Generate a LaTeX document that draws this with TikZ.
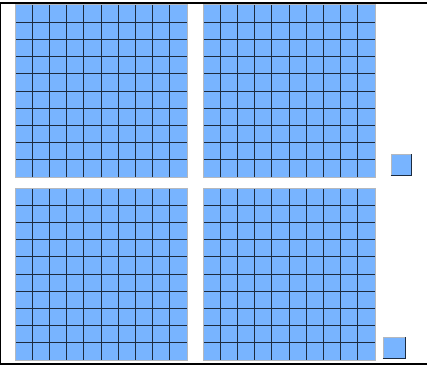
\documentclass[tikz,border=0pt]{standalone}
\usepackage{tikz}
\definecolor{tile}{HTML}{78B4FF}
\definecolor{gridln}{HTML}{1C2B3F}
\definecolor{rim}{HTML}{B4B8BE}
\tikzset{
  flat/.style={fill=tile},
  gridline/.style={gridln,line width=0.8pt},
  rimline/.style={draw=rim,line width=1pt},
  darkedge/.style={gridln,line width=1pt},
  frameline/.style={black,line width=2pt},
}
\begin{document}
\begin{tikzpicture}[x=1pt,y=-1pt]
  \useasboundingbox (0,0) rectangle (427,366);
  % frame
  \draw[frameline] (0,3) -- (427,3);
  \draw[frameline] (0,364) -- (427,364);
  \draw[black,line width=1.2pt] (0.6,3) -- (0.6,364);
  % hundreds
  \foreach \bx/\by in {15/5,203/5,15/188,203/188}{
    \fill[flat] (\bx,\by) rectangle ++(172,172);
    \foreach \i in {1,...,9}{
      \draw[gridline] (\bx+\i*17.2,\by) -- ++(0,172);
      \draw[gridline] (\bx,\by+\i*17.2) -- ++(172,0);
    }
    \draw[rimline] (\bx,\by) rectangle ++(172,172);
  }
  % units
  \fill[flat] (391,154) rectangle (411,175);
  \draw[rimline] (391,175) -- (391,154) -- (411,154);
  \draw[darkedge] (411,154) -- (411,176) (390.5,175) -- (411,175);
  \fill[flat] (383,337) rectangle (405,358);
  \draw[rimline] (383,358) -- (383,337) -- (405,337);
  \draw[darkedge] (405,337) -- (405,359) (382.5,358) -- (405,358);
\end{tikzpicture}
\end{document}
